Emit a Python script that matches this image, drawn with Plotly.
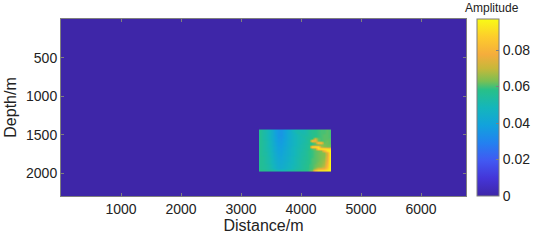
import plotly.graph_objects as go

# model extent (m)
DIST_EDGES = [0, 6750]
DEPTH_EDGES = [0, 2290]

# anomaly patch: cell centres (m)
PATCH_DIST = [3324, 3372, 3420, 3468, 3516, 3564, 3612, 3660, 3708, 3756,
              3804, 3852, 3900, 3948, 3996, 4044, 4092, 4140, 4188, 4236,
              4284, 4332, 4380, 4428, 4476]
PATCH_DEPTH = [1443, 1469, 1495, 1521, 1547, 1573, 1599, 1625, 1651, 1677, 1703,
               1729, 1755, 1781, 1807, 1833, 1859, 1885, 1911, 1937, 1963]

# amplitude in units of 1e-3, rows top -> bottom
PATCH_AMP_MILLI = [
    [56, 53, 51, 48, 44, 39, 36, 35, 37, 40, 43, 47, 50, 51, 50, 51, 53, 55, 57, 58, 59, 60, 60, 61, 60],
    [56, 53, 51, 48, 44, 39, 36, 35, 37, 40, 43, 46, 49, 52, 51, 51, 53, 55, 57, 58, 59, 60, 60, 61, 60],
    [56, 53, 51, 48, 44, 39, 36, 35, 37, 40, 43, 46, 48, 50, 52, 52, 53, 55, 57, 58, 59, 60, 61, 61, 60],
    [56, 53, 51, 48, 44, 40, 36, 36, 37, 40, 43, 46, 48, 50, 51, 53, 54, 55, 57, 58, 59, 60, 61, 61, 60],
    [56, 53, 51, 48, 44, 40, 37, 36, 38, 40, 43, 46, 48, 50, 51, 52, 55, 56, 58, 72, 62, 60, 61, 61, 61],
    [56, 54, 52, 49, 45, 40, 37, 37, 38, 41, 44, 46, 48, 50, 51, 52, 54, 57, 82, 78, 62, 60, 61, 62, 61],
    [56, 54, 52, 49, 45, 41, 38, 37, 39, 41, 44, 46, 48, 50, 51, 53, 54, 56, 59, 63, 84, 82, 62, 62, 61],
    [56, 54, 52, 49, 45, 41, 38, 38, 39, 41, 44, 46, 48, 50, 52, 53, 55, 57, 59, 61, 62, 64, 63, 62, 62],
    [56, 54, 52, 49, 46, 42, 39, 38, 40, 42, 44, 47, 49, 50, 52, 53, 55, 57, 90, 93, 91, 68, 64, 63, 63],
    [56, 54, 52, 50, 46, 42, 39, 39, 40, 42, 45, 47, 49, 51, 52, 54, 55, 57, 61, 64, 91, 94, 93, 91, 90],
    [56, 54, 52, 50, 46, 42, 40, 39, 41, 43, 45, 47, 49, 51, 52, 54, 56, 58, 59, 61, 62, 64, 80, 92, 95],
    [56, 54, 53, 50, 47, 43, 40, 40, 41, 43, 45, 47, 49, 51, 53, 54, 56, 58, 59, 61, 62, 63, 64, 74, 95],
    [56, 54, 53, 50, 47, 43, 41, 40, 42, 43, 45, 47, 49, 51, 53, 54, 56, 58, 59, 61, 62, 63, 64, 72, 95],
    [56, 55, 53, 51, 47, 44, 41, 41, 42, 44, 46, 48, 50, 51, 53, 55, 56, 58, 59, 61, 62, 63, 64, 74, 95],
    [56, 55, 53, 51, 48, 44, 42, 41, 42, 44, 46, 48, 50, 52, 53, 55, 56, 58, 60, 61, 62, 63, 65, 75, 95],
    [56, 55, 53, 51, 48, 45, 42, 42, 43, 44, 46, 48, 50, 52, 54, 55, 57, 58, 60, 61, 62, 64, 66, 76, 96],
    [56, 55, 53, 51, 48, 45, 43, 42, 43, 45, 47, 48, 50, 52, 54, 55, 57, 58, 60, 61, 63, 64, 67, 78, 96],
    [56, 55, 54, 52, 49, 46, 43, 43, 44, 45, 47, 49, 50, 52, 54, 56, 57, 59, 60, 62, 63, 65, 68, 80, 96],
    [56, 55, 54, 52, 49, 46, 44, 43, 44, 46, 47, 49, 51, 52, 54, 56, 57, 59, 60, 62, 64, 66, 70, 82, 96],
    [56, 55, 54, 52, 50, 47, 44, 44, 45, 46, 48, 49, 51, 53, 54, 56, 58, 59, 60, 66, 74, 76, 78, 86, 96],
    [58, 58, 57, 56, 55, 54, 53, 52, 52, 53, 54, 55, 56, 57, 58, 58, 58, 60, 64, 88, 95, 96, 96, 96, 96],
]

X_TICKS = [1000, 2000, 3000, 4000, 5000, 6000]
Y_TICKS = [500, 1000, 1500, 2000]
CB_TICKS = [0, 0.02, 0.04, 0.06, 0.08]
CB_LABELS = ["0", "0.02", "0.04", "0.06", "0.08"]

PARULA = [
    [0.00, "#3e26a8"], [0.10, "#4435d8"], [0.20, "#4159f2"],
    [0.30, "#2381f0"], [0.40, "#12a2dc"], [0.50, "#14b6bb"],
    [0.60, "#28c088"], [0.65, "#7cbf52"], [0.72, "#c6b83a"],
    [0.80, "#f5ad3c"], [0.90, "#fdcd2c"], [1.00, "#f9fb15"],
]

FONT = "Liberation Sans, Arial, sans-serif"

patch_amp = [[v / 1000 for v in row] for row in PATCH_AMP_MILLI]

fig = go.Figure()
fig.add_trace(go.Heatmap(x=DIST_EDGES, y=DEPTH_EDGES, z=[[0]],
                         coloraxis="coloraxis", hoverinfo="skip"))
fig.add_trace(go.Heatmap(x=PATCH_DIST, y=PATCH_DEPTH, z=patch_amp,
                         coloraxis="coloraxis", zsmooth="best"))

axis = dict(showline=True, mirror="ticks", linecolor="#7f7f7f", linewidth=1,
            ticks="inside", ticklen=3, tickcolor="#7f7f7f", showgrid=False,
            zeroline=False, automargin=False, tickfont=dict(size=14, color="#222"))
fig.update_xaxes(range=DIST_EDGES, tickvals=X_TICKS, **axis,
                 title=dict(text="Distance/m", font=dict(size=16, color="#222"), standoff=1))
fig.update_yaxes(range=DEPTH_EDGES[::-1], tickvals=Y_TICKS, **axis,
                 title=dict(text="Depth/m", font=dict(size=16, color="#222"), standoff=5))

fig.update_layout(
    width=533, height=241,
    margin=dict(l=61, r=67, t=19, b=45, autoexpand=False),
    paper_bgcolor="white", plot_bgcolor="white",
    font=dict(family=FONT, color="#222"),
    coloraxis=dict(
        colorscale=PARULA, cmin=0, cmax=0.097,
        colorbar=dict(x=1.027, xanchor="left", y=0, yanchor="bottom", len=1,
                      thickness=22, outlinecolor="#7f7f7f", outlinewidth=1,
                      tickvals=CB_TICKS, ticktext=CB_LABELS,
                      ticks="inside", ticklen=3, tickcolor="#7f7f7f",
                      tickfont=dict(size=14, color="#222"), xpad=0, ypad=0),
    ),
    annotations=[dict(text="Amplitude", xref="paper", yref="paper", x=1.064, y=1.0,
                      xanchor="center", yanchor="bottom", yshift=2, showarrow=False,
                      font=dict(size=12, color="#222"))],
)

# page has a default 8px body margin; drop it so the figure sits at the corner
fig.write_html("out.html", config={"displayModeBar": False},
               post_script="document.body.style.margin = '0';")
